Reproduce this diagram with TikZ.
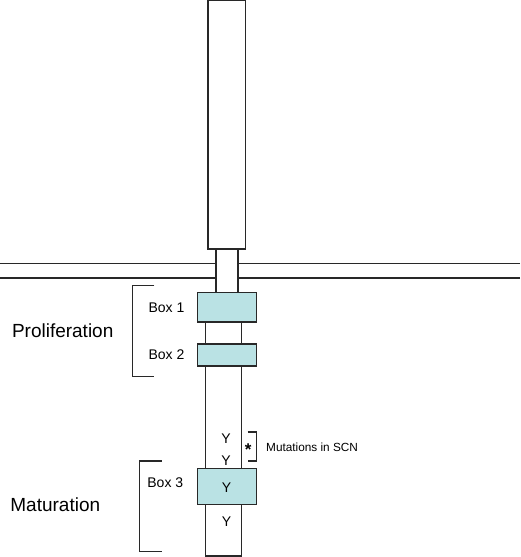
\documentclass[tikz,border=0pt]{standalone}
\usepackage{fontspec}
\setmainfont{Liberation Sans}
\definecolor{boxfill}{RGB}{186,226,228}
\definecolor{linegray}{RGB}{40,40,40}
\begin{document}
\begin{tikzpicture}[x=1pt,y=-1pt,
  ln/.style={draw=linegray,line width=1.1pt},
  part/.style={ln,fill=white,inner sep=0pt,outer sep=0pt},
  boxdom/.style={ln,fill=boxfill,inner sep=0pt,outer sep=0pt},
  lbl/.style={inner sep=0pt,anchor=base,font=\fontsize{14}{16}\selectfont},
  big/.style={inner sep=0pt,anchor=base,font=\fontsize{19}{22}\selectfont},
  small/.style={inner sep=0pt,anchor=base west,font=\fontsize{11.8}{13}\selectfont}]
\useasboundingbox (0,0) rectangle (520,557);
% extracellular part
\node[part,minimum width=37.6pt,minimum height=248.5pt,anchor=north west] (ext) at (208,0.5) {};
% transmembrane stem
\node[part,minimum width=22pt,minimum height=44pt,anchor=north west] (tm) at (216,249) {};
% membrane
\coordinate (ml1) at (0,263.7);
\coordinate (ml2) at (0,278);
\coordinate (mr1) at (520,263.7);
\coordinate (mr2) at (520,278);
\draw[ln] (ml1) -- (ml1 -| tm.west);
\draw[ln] (ml2) -- (ml2 -| tm.west);
\draw[ln] (mr1) -- (mr1 -| tm.east);
\draw[ln] (mr2) -- (mr2 -| tm.east);
% intracellular stem
\node[part,minimum width=36pt,minimum height=234pt,anchor=north west] (cyto) at (205.3,322) {};
% boxes
\node[boxdom,minimum width=58.6pt,minimum height=29.3pt,anchor=north west] (b1) at (197.7,292.7) {};
\node[boxdom,minimum width=58.6pt,minimum height=22pt,anchor=north west] (b2) at (197.7,344) {};
\node[boxdom,minimum width=58.6pt,minimum height=36.4pt,anchor=north west] (b3) at (197.7,468.3) {};
% labels
\node[lbl] (t1) at (166.5,312.3) {Box 1};
\node[lbl] (t2) at (166.5,359.3) {Box 2};
\node[lbl] (t3) at (165.3,487.3) {Box 3};
\node[big] (prol) at (62.7,337.3) {Proliferation};
\node[big] (mat) at (55.3,511.7) {Maturation};
\node[lbl] (y1) at (226,443.3) {Y};
\node[lbl] (y2) at (226,465) {Y};
\node[lbl] (y3) at (226.5,492.7) {Y};
\node[lbl] (y4) at (226.5,526.7) {Y};
% brackets
\coordinate (pa) at (154.3,285.7);
\coordinate (pb) at (154.3,376.7);
\draw[ln] (pa) -- (132.7,285.7) -- (132.7,376.7) -- (pb);
\coordinate (ma) at (161.7,461);
\coordinate (mb) at (161.7,551.7);
\draw[ln] (ma) -- (139.3,461) -- (139.3,551.7) -- (mb);
\coordinate (sa) at (247.7,432);
\coordinate (sb) at (247.7,461);
\draw[ln] (sa) -- (256.3,432) -- (256.3,461) -- (sb);
\node[inner sep=0pt,font=\fontsize{17}{18}\bfseries] (ast) at (248.3,450) {*};
\node[small] (mut) at (266,451.5) {Mutations in SCN};
\end{tikzpicture}
\end{document}
